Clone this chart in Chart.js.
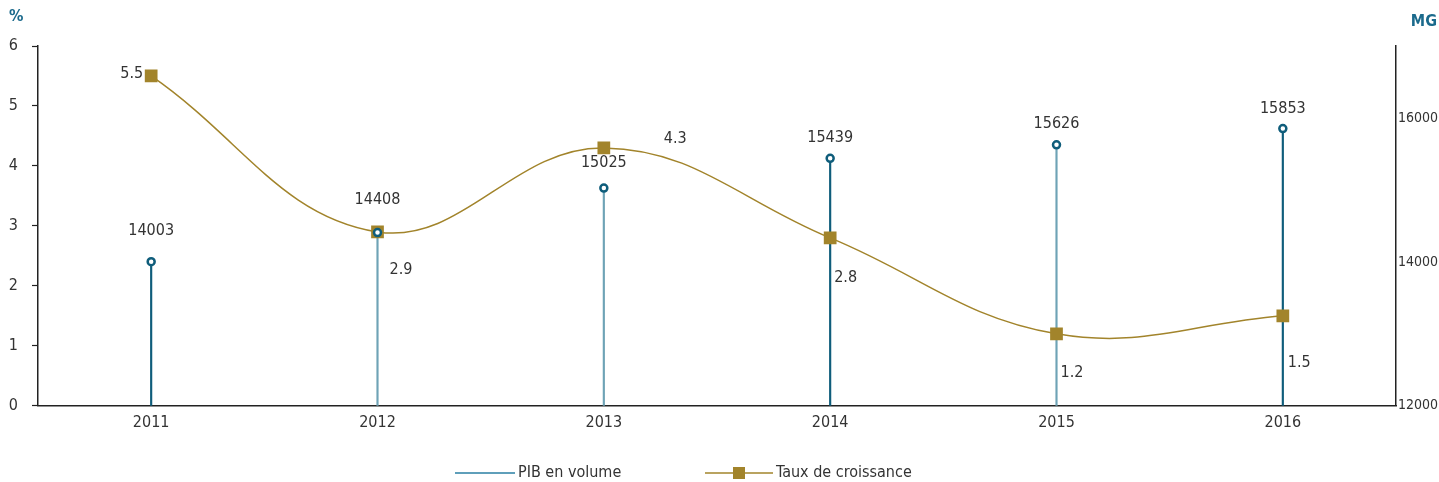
<!DOCTYPE html>
<html>
<head>
<meta charset="utf-8">
<script src="https://cdn.jsdelivr.net/npm/chart.js@4.4.1/dist/chart.umd.min.js"></script>
<style>
  body { margin: 0; background: #fff; }
  #wrap { width: 1439px; height: 482px; }
</style>
</head>
<body>
<div id="wrap"><canvas id="mycanvas" width="1439" height="482"></canvas></div>
<script>
// data
var years = ['2011', '2012', '2013', '2014', '2015', '2016'];
var pibVolume = [14003, 14408, 15025, 15439, 15626, 15853];
var tauxCroissance = [5.5, 2.9, 4.3, 2.8, 1.2, 1.5];
var leftTicks = [0, 1, 2, 3, 4, 5, 6];
var rightTicks = [12000, 14000, 16000];
var legendNames = ['PIB en volume', 'Taux de croissance'];

// styles
var FONT = '"DejaVu Sans Condensed", "Liberation Sans Narrow", sans-serif';
var FS = 16;
var TEXT = '#333333';
var TEAL = '#0f5d7b';
var TEAL_LIGHT = '#6ea3b6';
var GOLD = '#a2842b';
var stemColors = [TEAL, TEAL_LIGHT, TEAL_LIGHT, TEAL, TEAL_LIGHT, TEAL];
var pibLabelLift = [31, 33, 25, 20, 21, 20];
// [dx, dy, align] relative to the square marker
var tauxLabelPos = [[-8, -2, 'right'], [12, 38, 'left'], [60, -9, 'left'], [4, 40, 'left'], [4, 39, 'left'], [5, 47, 'left']];

var labelsPlugin = {
  id: 'labelsPlugin',
  afterDatasetsDraw: function(chart) {
    var ctx = chart.ctx;
    ctx.save();
    ctx.font = FS + 'px ' + FONT;
    ctx.fillStyle = TEXT;
    ctx.textBaseline = 'middle';
    var dots = chart.getDatasetMeta(1).data;
    dots.forEach(function(p, i) {
      ctx.textAlign = 'center';
      ctx.fillText(String(pibVolume[i]), p.x, p.y - pibLabelLift[i]);
    });
    var sq = chart.getDatasetMeta(2).data;
    sq.forEach(function(p, i) {
      var pos = tauxLabelPos[i];
      ctx.textAlign = pos[2];
      ctx.fillText(String(tauxCroissance[i]), p.x + pos[0], p.y + pos[1]);
    });

    // legend
    var ly = 473;
    ctx.textAlign = 'left';
    ctx.lineWidth = 1.5;
    ctx.strokeStyle = '#2a7fa3';
    ctx.beginPath(); ctx.moveTo(455, ly); ctx.lineTo(515, ly); ctx.stroke();
    ctx.fillText(legendNames[0], 518, ly);
    ctx.strokeStyle = GOLD;
    ctx.beginPath(); ctx.moveTo(705, ly); ctx.lineTo(773, ly); ctx.stroke();
    ctx.fillStyle = GOLD;
    ctx.fillRect(733, ly - 6, 12, 12);
    ctx.fillStyle = TEXT;
    ctx.fillText(legendNames[1], 776, ly);

    // axis units
    ctx.font = 'bold ' + FS + 'px ' + FONT;
    ctx.fillStyle = '#1b6a8c';
    ctx.textAlign = 'left';
    ctx.fillText('%', 9, 17);
    ctx.textAlign = 'right';
    ctx.fillText('MG', 1437, 22);
    ctx.restore();
  }
};

var ctx = document.getElementById('mycanvas');
var chart = new Chart(ctx, {
  data: {
    labels: years,
    datasets: [
      {
        type: 'bar',
        label: 'PIB en volume',
        data: pibVolume,
        yAxisID: 'y2',
        backgroundColor: stemColors,
        barThickness: 1.5,
        order: 3
      },
      {
        type: 'line',
        label: 'PIB points',
        data: pibVolume,
        yAxisID: 'y2',
        showLine: false,
        pointRadius: 3.5,
        pointBackgroundColor: '#ffffff',
        pointBorderColor: TEAL,
        pointBorderWidth: 2.5,
        order: 1
      },
      {
        type: 'line',
        label: 'Taux de croissance',
        data: tauxCroissance,
        yAxisID: 'y',
        borderColor: GOLD,
        borderWidth: 1.5,
        tension: 0.4,
        pointStyle: 'rect',
        pointRadius: 9,
        pointBackgroundColor: GOLD,
        pointBorderColor: GOLD,
        pointBorderWidth: 0,
        order: 2
      }
    ]
  },
  options: {
    responsive: false,
    animation: false,
    layout: { padding: { top: 46, bottom: 43, left: 0, right: 0 } },
    plugins: {
      tooltip: { enabled: false },
      legend: { display: false }
    },
    scales: {
      x: {
        offset: true,
        grid: { display: false, drawTicks: false },
        border: { display: true, color: '#222', width: 1.5 },
        ticks: { color: TEXT, padding: 7, font: { family: FONT, size: FS } }
      },
      y: {
        position: 'left',
        min: 0,
        max: 6,
        afterBuildTicks: function(scale) {
          scale.ticks = leftTicks.map(function(v) { return { value: v }; });
        },
        afterFit: function(scale) { scale.width = 38; },
        grid: { drawOnChartArea: false, drawTicks: true, tickLength: 6, color: '#222', tickWidth: 1.2 },
        border: { display: true, color: '#222', width: 1.5 },
        ticks: { color: TEXT, padding: 14, font: { family: FONT, size: FS } }
      },
      y2: {
        position: 'right',
        min: 12000,
        max: 17000,
        afterBuildTicks: function(scale) {
          scale.ticks = rightTicks.map(function(v) { return { value: v }; });
        },
        afterFit: function(scale) { scale.width = 43; },
        grid: { drawOnChartArea: false, drawTicks: false },
        border: { display: true, color: '#222', width: 1.5 },
        ticks: {
          color: TEXT, padding: 2, font: { family: FONT, size: 14 },
          callback: function(v) { return String(v); }
        }
      }
    }
  },
  plugins: [labelsPlugin]
});
</script>
</body>
</html>
